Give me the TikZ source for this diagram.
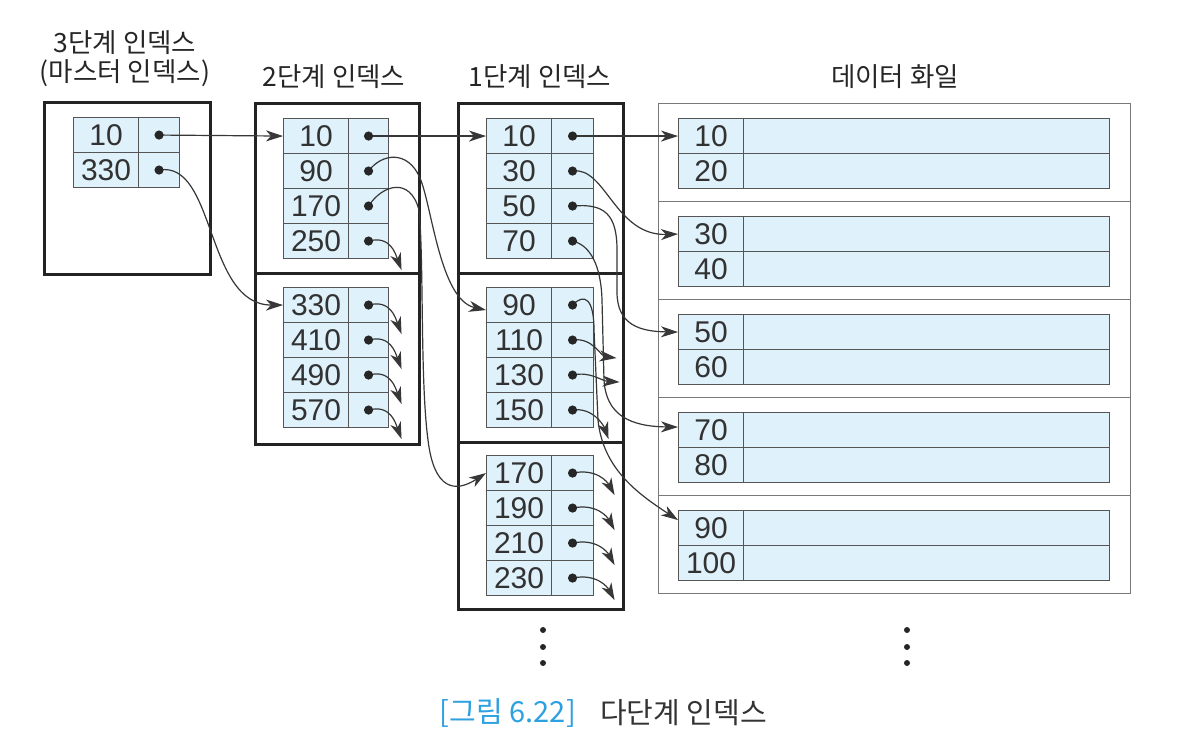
\documentclass[tikz,border=0pt]{standalone}
\usepackage{fontspec}
\setmainfont{Liberation Sans}
\newfontfamily\kr{Noto Sans CJK KR}
\usetikzlibrary{arrows.meta,calc}
\definecolor{cellfill}{RGB}{223,242,252}
\definecolor{cellline}{RGB}{85,85,85}
\definecolor{boxline}{RGB}{35,35,35}
\definecolor{fileline}{RGB}{120,120,120}
\definecolor{linkc}{RGB}{55,55,55}
\definecolor{txt}{RGB}{50,50,50}
\definecolor{capblue}{RGB}{45,160,225}
\begin{document}
\begin{tikzpicture}[x=1pt,y=-1pt,
  cell/.style={draw=cellline, fill=cellfill, line width=1.1pt, minimum height=35pt, inner sep=0pt, anchor=north west, text=txt, font=\fontsize{30}{30}\selectfont},
  keycell/.style={cell, minimum width=65pt},
  blockbox/.style={draw=boxline, line width=3pt, inner sep=0pt, anchor=north west},
  filebox/.style={draw=fileline, line width=1.3pt, inner sep=0pt, anchor=north west, minimum width=472pt, minimum height=98pt},
  link/.style={draw=linkc, line width=1.2pt, -{Stealth[length=17pt,width=11pt,inset=5pt]}},
  ptdot/.style={fill=black!85},
  title/.style={font=\kr\fontsize{26.5}{30}\selectfont, text=black!85, inner sep=0pt},
]
\useasboundingbox[fill=white] (0,0) rectangle (1203,748);

% titles
\node[title] (t3) at (125,43) {3단계 인덱스};
\node[title] (t3b) at (125,73) {(마스터 인덱스)};
\node[title] (t2) at (334,77) {2단계 인덱스};
\node[title] (t1) at (540,77) {1단계 인덱스};
\node[title] (tf) at (895,77) {데이터 화일};

% index blocks
\node[blockbox, minimum width=166pt, minimum height=172pt] (B3) at (43,101) {};
\node[blockbox, minimum width=164pt, minimum height=170pt] (B2a) at (254,102) {};
\node[blockbox, minimum width=164pt, minimum height=171pt] (B2b) at (254,272) {};
\node[blockbox, minimum width=165pt, minimum height=170pt] (B1a) at (457,102) {};
\node[blockbox, minimum width=165pt, minimum height=169pt] (B1b) at (457,272) {};
\node[blockbox, minimum width=165pt, minimum height=167pt] (B1c) at (457,441) {};

% data file blocks
\foreach \i in {1,...,5} {
  \node[filebox] (F\i) at (658,{103+98*(\i-1)}) {};
}

% level 3 table
\foreach \v [count=\i] in {10,330} {
  \node[keycell] (ka\i) at (73,{117+35*(\i-1)}) {\v};
  \node[cell, minimum width=41pt] (pa\i) at (138,{117+35*(\i-1)}) {};
}
% level 2 tables
\foreach \v [count=\i] in {10,90,170,250} {
  \node[keycell] (kb\i) at (283,{118+35*(\i-1)}) {\v};
  \node[cell, minimum width=40pt] (pb\i) at (348,{118+35*(\i-1)}) {};
}
\foreach \v [count=\i from 5] in {330,410,490,570} {
  \node[keycell] (kb\i) at (283,{287+35*(\i-5)}) {\v};
  \node[cell, minimum width=40pt] (pb\i) at (348,{287+35*(\i-5)}) {};
}
% level 1 tables
\foreach \v [count=\i] in {10,30,50,70} {
  \node[keycell] (kc\i) at (486,{118+35*(\i-1)}) {\v};
  \node[cell, minimum width=42pt] (pc\i) at (551,{118+35*(\i-1)}) {};
}
\foreach \v [count=\i from 5] in {90,110,130,150} {
  \node[keycell] (kc\i) at (486,{287+35*(\i-5)}) {\v};
  \node[cell, minimum width=42pt] (pc\i) at (551,{287+35*(\i-5)}) {};
}
\foreach \v [count=\i from 9] in {170,190,210,230} {
  \node[keycell] (kc\i) at (486,{455+35*(\i-9)}) {\v};
  \node[cell, minimum width=42pt] (pc\i) at (551,{455+35*(\i-9)}) {};
}
% data records
\foreach \a/\b [count=\i] in {10/20,30/40,50/60,70/80,90/100} {
  \node[keycell] (ra\i) at (678,{118+98*(\i-1)}) {\a};
  \node[cell, minimum width=366pt] (va\i) at (743,{118+98*(\i-1)}) {};
  \node[keycell] (rb\i) at (678,{153+98*(\i-1)}) {\b};
  \node[cell, minimum width=366pt] (vb\i) at (743,{153+98*(\i-1)}) {};
}

% stub end coordinates
\foreach \i in {4,...,8} { \coordinate (sb\i) at ($(pb\i.center)+(33,29)$); }
\coordinate (sc6) at ($(pc6.center)+(44,18)$);
\coordinate (sc7) at ($(pc7.center)+(47,7)$);
\coordinate (sc8) at ($(pc8.center)+(36,29)$);
\foreach \i in {9,...,12} { \coordinate (sc\i) at ($(pc\i.center)+(42,22)$); }

% connectors: level 3 -> level 2
\draw[link] (pa1.center) -- (kb1.west);
\draw[link] (pa2.center) .. controls +(57,-10) and +(-78,0) .. (kb5.west);

% level 2 -> level 1
\draw[link] (pb1.center) -- (kc1.west);
\draw[link] (pb2.center) .. controls (382,153) and (408,150) .. (420,178)
  .. controls (432,206) and (440,300) .. ([yshift=-5pt]kc5.west);
\draw[link] (pb3.center) .. controls (382,185) and (410,176) .. (419,210)
  .. controls (424,260) and (420,380) .. (428,440)
  .. controls (434,490) and (455,493) .. (kc9.west);
\foreach \i in {4,...,8} {
  \draw[link] (pb\i.center) .. controls +(22,-6) and +(-6,-16) .. (sb\i);
}

% level 1 -> data
\draw[link] (pc1.center) -- (ra1.west);
\draw[link] (pc2.center) .. controls +(33,-5) and +(-63,2) .. (ra2.west);
\draw[link] (pc3.center) .. controls (605,203) and (617,215) .. (617,250) -- (617,292)
  .. controls (617,325) and (640,331.5) .. (ra3.west);
\draw[link] (pc4.center) .. controls (590,245) and (601,265) .. (602,300) -- (604,380)
  .. controls (606,415) and (630,426.5) .. ([yshift=3pt]ra4.west);
\draw[link] (pc5.center) .. controls (585,292) and (594,300) .. (594,330) -- (598,420)
  .. controls (603,470) and (640,495) .. ([yshift=8pt]ra5.west);
\draw[link] (pc6.center) .. controls +(20,-3) and +(-16,-2) .. (sc6);
\draw[link] (pc7.center) .. controls +(18,-4) and +(-18,-1) .. (sc7);
\draw[link] (pc8.center) .. controls +(20,-3) and +(-5,-14) .. (sc8);
\foreach \i in {9,...,12} {
  \draw[link] (pc\i.center) .. controls +(24,-5) and +(-7,-13) .. (sc\i);
}

% pointer dots
\foreach \n in {pa1,pa2,pb1,pb2,pb3,pb4,pb5,pb6,pb7,pb8,pc1,pc2,pc3,pc4,pc5,pc6,pc7,pc8,pc9,pc10,pc11,pc12} {
  \fill[ptdot] (\n.center) circle (4.6pt);
}

% continuation dots
\foreach \y in {630,647,663} {
  \fill[black!85] (543,\y) circle (3pt);
  \fill[black!85] (907,\y) circle (3pt);
}

% caption
\node[font=\kr\fontsize{29}{32}\selectfont, text=capblue, anchor=east, inner sep=0pt] (cap1) at (576,713) {[그림 6.22]};
\node[font=\kr\fontsize{29}{32}\selectfont, text=black!80, anchor=west, inner sep=0pt] (cap2) at (600,713) {다단계 인덱스};
\end{tikzpicture}
\end{document}
